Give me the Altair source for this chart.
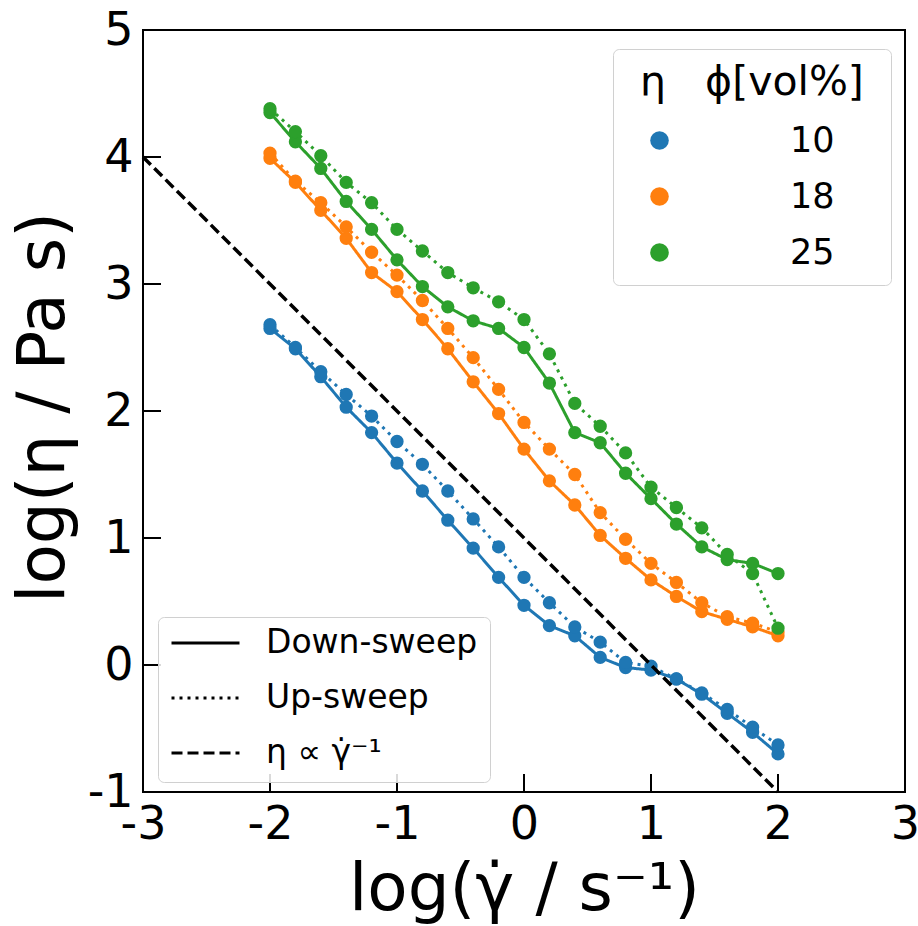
import altair as alt
import pandas as pd

# ---------------- data ----------------
shear = [-2.0, -1.8, -1.6, -1.4, -1.2, -1.0, -0.8, -0.6, -0.4, -0.2, 0.0,
         0.2, 0.4, 0.6, 0.8, 1.0, 1.2, 1.4, 1.6, 1.8, 2.0]

phi_10_down = [2.65, 2.49, 2.27, 2.03, 1.83, 1.59, 1.37, 1.14, 0.92, 0.69, 0.47,
               0.31, 0.23, 0.06, -0.02, -0.04, -0.11, -0.23, -0.38, -0.53, -0.70]
phi_10_up = [2.68, 2.50, 2.31, 2.13, 1.96, 1.76, 1.58, 1.37, 1.15, 0.93, 0.69,
             0.49, 0.30, 0.18, 0.02, -0.01, -0.11, -0.22, -0.35, -0.49, -0.63]
phi_18_down = [3.99, 3.80, 3.58, 3.36, 3.09, 2.94, 2.72, 2.49, 2.23, 1.98, 1.70,
               1.45, 1.26, 1.02, 0.84, 0.67, 0.54, 0.42, 0.36, 0.30, 0.23]
phi_18_up = [4.03, 3.81, 3.64, 3.45, 3.25, 3.07, 2.87, 2.65, 2.42, 2.17, 1.91,
             1.70, 1.50, 1.20, 0.99, 0.80, 0.65, 0.49, 0.38, 0.33, 0.26]
phi_25_down = [4.35, 4.12, 3.91, 3.65, 3.43, 3.19, 2.98, 2.82, 2.71, 2.65, 2.50,
               2.22, 1.83, 1.75, 1.51, 1.31, 1.11, 0.93, 0.83, 0.80, 0.72]
phi_25_up = [4.38, 4.20, 4.01, 3.80, 3.64, 3.43, 3.26, 3.09, 2.97, 2.86, 2.72,
             2.45, 2.06, 1.88, 1.67, 1.40, 1.24, 1.08, 0.87, 0.72, 0.29]

phi_labels = ["10", "18", "25"]
phi_colors = ["#1f77b4", "#ff7f0e", "#2ca02c"]
sweep_labels = ["Down-sweep", "Up-sweep", "\u03b7 \u221d \u03b3\u0307\u207b\u00b9"]

ref_x = [-3.0, 2.0]
ref_y = [4.0, -1.0]

x_ticks = [-3, -2, -1, 0, 1, 2, 3]
y_ticks = [-1, 0, 1, 2, 3, 4, 5]

# ---------------- tables ----------------
series = [
    ("10", "Down-sweep", phi_10_down), ("10", "Up-sweep", phi_10_up),
    ("18", "Down-sweep", phi_18_down), ("18", "Up-sweep", phi_18_up),
    ("25", "Down-sweep", phi_25_down), ("25", "Up-sweep", phi_25_up),
]
rows = []
for phi, sweep, vals in series:
    for xv, yv in zip(shear, vals):
        rows.append({"x": xv, "y": yv, "phi": phi, "sweep": sweep,
                     "series": phi + sweep})
df = pd.DataFrame(rows)
ref_df = pd.DataFrame({"x": ref_x, "y": ref_y, "kind": [sweep_labels[2]] * 2})
xt_df = pd.DataFrame({"x": x_ticks})
yt_df = pd.DataFrame({"y": y_ticks})

W, H = 762, 762
FONT = "DejaVu Sans"

x_scale = alt.Scale(domain=[-3, 3], nice=False, zero=False)
y_scale = alt.Scale(domain=[-1, 5], nice=False, zero=False)
color_scale = alt.Scale(domain=phi_labels, range=phi_colors)
dash_scale = alt.Scale(domain=sweep_labels, range=[[1, 0], [3, 5], [11, 5]])

x_axis = alt.Axis(values=x_ticks, labelExpr="'' + datum.value", ticks=False,
                  domain=False, grid=False, labelPadding=10, labelFontSize=46,
                  labelFlush=False, labelOverlap=False,
                  title="log(\u03b3\u0307 / s\u207b\u00b9)", titleFontSize=66,
                  titleX=W / 2, titleY=117, titleBaseline="alphabetic",
                  titleAlign="center")
y_axis = alt.Axis(values=y_ticks, labelExpr="'' + datum.value", ticks=False,
                  domain=False, grid=False, labelPadding=10, labelFontSize=46,
                  labelFlush=False, labelOverlap=False,
                  title="log(\u03b7 / Pa s)", titleFontSize=66,
                  titleX=-80, titleY=H / 2 - 4, titleBaseline="alphabetic",
                  titleAlign="center", titleAngle=270)

nb = "\u00a0"
zw = "\u200b"
color_legend = alt.Legend(
    orient="none", legendX=470, legendY=19,
    title=zw + nb + "\u03b7" + nb * 3 + "\u03d5[vol%]" + nb + zw,
    titleFontSize=41, titleFont=FONT, titleFontWeight="normal",
    titleColor="black", titlePadding=18, titleLimit=400,
    labelFontSize=35, labelFont=FONT, labelColor="black", labelOffset=113,
    symbolType="circle", symbolSize=346, symbolOffset=15, symbolStrokeWidth=0,
    clipHeight=37, rowPadding=19, padding=14,
    strokeColor="#d0d0d0", fillColor="rgba(255,255,255,0.85)", cornerRadius=6,
)
dash_legend = alt.Legend(
    orient="none", legendX=15, legendY=587, title=None,
    labelFontSize=33, labelFont=FONT, labelColor="black", labelOffset=25,
    labelLimit=400,
    symbolType="stroke", symbolSize=68 * 68, symbolStrokeWidth=3,
    symbolStrokeColor="black",
    clipHeight=28, rowPadding=22, padding=12,
    strokeColor="#d0d0d0", fillColor="rgba(255,255,255,0.85)", cornerRadius=6,
)

X = alt.X("x:Q", scale=x_scale, axis=x_axis)
Y = alt.Y("y:Q", scale=y_scale, axis=y_axis)

layers = []
for phi, col in zip(phi_labels, phi_colors):
    layers.append(
        alt.Chart(df).transform_filter(alt.datum.phi == phi)
        .mark_line(strokeWidth=3, color=col).encode(
            x=X, y=Y,
            strokeDash=alt.StrokeDash("sweep:N", scale=dash_scale,
                                      legend=dash_legend),
            detail="series:N",
        )
    )
    layers.append(
        alt.Chart(df).transform_filter(alt.datum.phi == phi)
        .mark_circle(size=177, opacity=1).encode(
            x=X, y=Y,
            color=alt.Color("phi:N", scale=color_scale, legend=color_legend),
        )
    )

ref = alt.Chart(ref_df).mark_line(strokeWidth=3.5, color="black").encode(
    x=X, y=Y,
    strokeDash=alt.StrokeDash("kind:N", scale=dash_scale, legend=dash_legend),
)
xticks = alt.Chart(xt_df).mark_rule(color="black", strokeWidth=2).encode(
    x=X, y=alt.value(H), y2=alt.value(H - 18),
)
yticks = alt.Chart(yt_df).mark_rule(color="black", strokeWidth=2).encode(
    y=Y, x=alt.value(0), x2=alt.value(18),
)

chart = alt.layer(*layers, ref, xticks, yticks).properties(
    width=W, height=H, autosize="none",
    padding={"left": 143, "top": 30, "right": 13, "bottom": 134},
).configure(font=FONT).configure_view(
    stroke="black", strokeWidth=2
).configure_axis(
    labelFont=FONT, titleFont=FONT, labelColor="black", titleColor="black",
    titleFontWeight="normal",
)

chart.save("out.html", embed_options={"renderer": "svg", "actions": False})
